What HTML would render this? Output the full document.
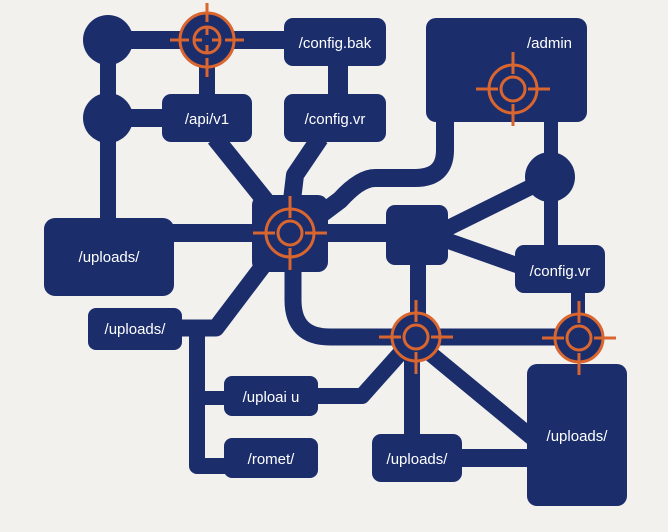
<!DOCTYPE html>
<html><head><style>
html,body{margin:0;padding:0;background:#f2f1ee;}
svg{display:block;}
text{font-family:"Liberation Sans",sans-serif;font-size:15px;fill:#fff;}
</style></head><body>
<svg width="668" height="532" viewBox="0 0 668 532" xmlns="http://www.w3.org/2000/svg">
<rect width="668" height="532" fill="#f2f1ee"/>
<g stroke="#1b2d6b" fill="none" stroke-linejoin="round">
  <!-- top horizontal -->
  <path d="M108 40 H300" stroke-width="18"/>
  <path d="M108 40 V240" stroke-width="16"/>
  <path d="M108 118 H170" stroke-width="18"/>
  <path d="M207 40 V100" stroke-width="16"/>
  <path d="M338 60 V100" stroke-width="20"/>
  <path d="M215 138 L285 225" stroke-width="18"/>
  <path d="M320 138 L295 175 L292 200" stroke-width="18"/>
  <path d="M170 233 H400" stroke-width="18"/>
  <!-- admin curve -->
  <path d="M445 115 V150 Q445 178 415 178 H375 Q360 178 340 200 L320 215" stroke-width="18"/>
  <path d="M551 115 V260" stroke-width="14"/>
  <path d="M440 232 L545 180" stroke-width="16"/>
  <path d="M440 238 L525 268" stroke-width="16"/>
  <path d="M418 250 V340" stroke-width="16"/>
  <!-- hub down curve -->
  <path d="M293 260 V300 Q293 337 330 337 H580" stroke-width="17"/>
  <path d="M578 285 V340" stroke-width="14"/>
  <!-- hub to lower left -->
  <path d="M275 250 L216 328 H175" stroke-width="17"/>
  <path d="M197 325 V466 H235" stroke-width="16"/>
  <path d="M197 398 H235" stroke-width="14"/>
  <path d="M310 396 H362 L412 340" stroke-width="16"/>
  <path d="M412 340 V450" stroke-width="16"/>
  <path d="M420 345 L535 440" stroke-width="16"/>
  <path d="M455 458 H535" stroke-width="18"/>
</g>
<g fill="#1b2d6b">
  <circle cx="108" cy="40" r="25"/>
  <circle cx="108" cy="118" r="25"/>
  <circle cx="207" cy="40" r="26"/>
  <circle cx="550" cy="177" r="25"/>
  <rect x="284" y="18" width="102" height="48" rx="9"/>
  <rect x="162" y="94" width="90" height="48" rx="9"/>
  <rect x="284" y="94" width="102" height="48" rx="9"/>
  <rect x="426" y="18" width="161" height="104" rx="10"/>
  <rect x="44" y="218" width="130" height="78" rx="11"/>
  <rect x="252" y="195" width="76" height="77" rx="10"/>
  <rect x="386" y="205" width="62" height="60" rx="9"/>
  <rect x="515" y="245" width="90" height="48" rx="9"/>
  <rect x="88" y="308" width="94" height="42" rx="8"/>
  <rect x="224" y="376" width="94" height="40" rx="8"/>
  <rect x="224" y="438" width="94" height="40" rx="8"/>
  <rect x="372" y="434" width="90" height="48" rx="9"/>
  <rect x="527" y="364" width="100" height="142" rx="10"/>
  <circle cx="416" cy="337" r="25"/>
  <circle cx="579" cy="338" r="24"/>
</g>
<g stroke="#d9652f" fill="none" stroke-width="3">
  <g transform="translate(207,40)"><circle r="27"/><circle r="13"/><path d="M0 -37V-18M0 37V18M-37 0H-18M37 0H18M0 -13V-5M0 13V5M-13 0H-5M13 0H5"/></g>
  <g transform="translate(513,89)"><circle r="24"/><circle r="12"/><path d="M0 -37V-15M0 37V15M-37 0H-15M37 0H15"/></g>
  <g transform="translate(290,233)"><circle r="24"/><circle r="12"/><path d="M0 -37V-15M0 37V15M-37 0H-15M37 0H15"/></g>
  <g transform="translate(416,337)"><circle r="24"/><circle r="12"/><path d="M0 -37V-15M0 37V15M-37 0H-15M37 0H15"/></g>
  <g transform="translate(579,338)"><circle r="24"/><circle r="12"/><path d="M0 -37V-15M0 37V15M-37 0H-15M37 0H15"/></g>
</g>
<text x="335" y="48" text-anchor="middle">/config.bak</text>
<text x="207" y="124" text-anchor="middle">/api/v1</text>
<text x="335" y="124" text-anchor="middle">/config.vr</text>
<text x="572" y="48" text-anchor="end">/admin</text>
<text x="109" y="262" text-anchor="middle">/uploads/</text>
<text x="560" y="276" text-anchor="middle">/config.vr</text>
<text x="135" y="334" text-anchor="middle">/uploads/</text>
<text x="271" y="402" text-anchor="middle">/uploai u</text>
<text x="271" y="464" text-anchor="middle">/romet/</text>
<text x="417" y="464" text-anchor="middle">/uploads/</text>
<text x="577" y="441" text-anchor="middle">/uploads/</text>
</svg>
</body></html>
